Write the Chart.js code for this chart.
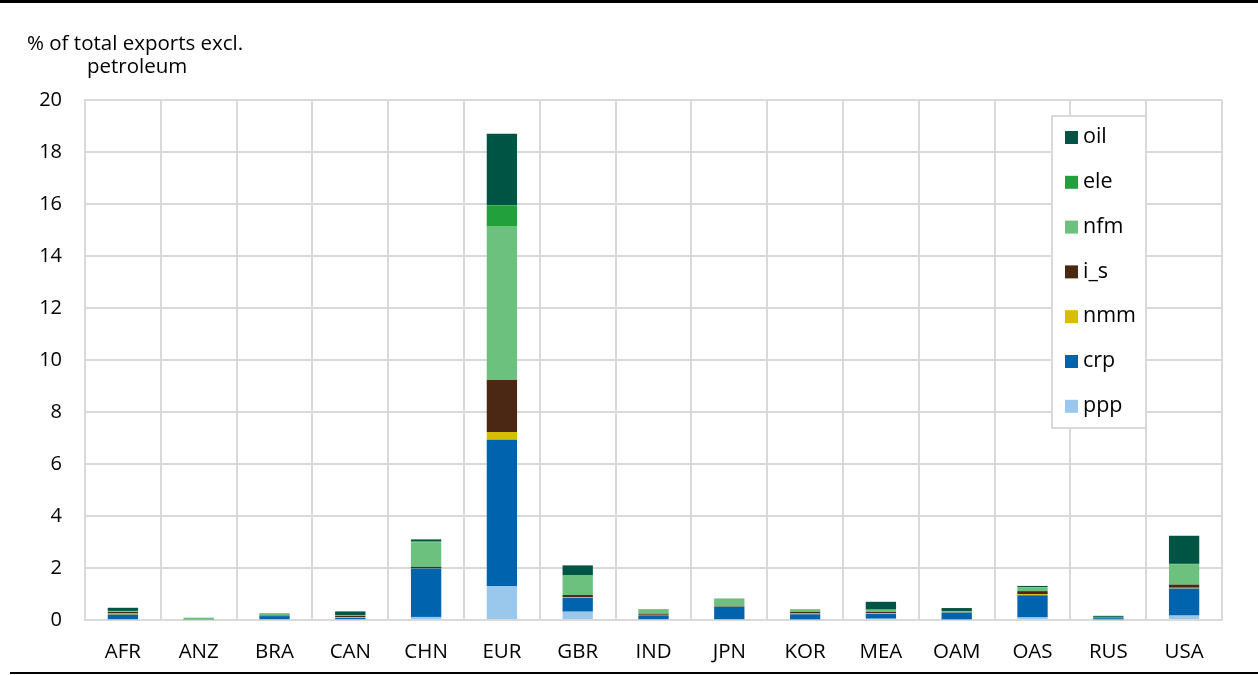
<!DOCTYPE html>
<html>
<head>
<meta charset="utf-8">
<script src="https://cdn.jsdelivr.net/npm/chart.js@4.4.0/dist/chart.umd.min.js"></script>
<style>
  html, body { margin: 0; padding: 0; background: #fff; }
  #wrap { position: relative; width: 1258px; height: 675px; }
</style>
</head>
<body>
<div id="wrap"><canvas id="chart" width="1258" height="675"></canvas></div>
<script>
const regions = ['AFR', 'ANZ', 'BRA', 'CAN', 'CHN', 'EUR', 'GBR', 'IND', 'JPN', 'KOR', 'MEA', 'OAM', 'OAS', 'RUS', 'USA'];

// stacked from bottom: ppp, crp, nmm, i_s, nfm, ele, oil
const ppp = [0.03, 0.01, 0.03, 0.03, 0.12, 1.31, 0.32, 0.03, 0.03, 0.02, 0.05, 0.02, 0.10, 0.01, 0.17];
const crp = [0.18, 0.03, 0.12, 0.05, 1.86, 5.62, 0.53, 0.15, 0.48, 0.20, 0.18, 0.27, 0.85, 0.06, 1.04];
const nmm = [0.04, 0.00, 0.01, 0.03, 0.01, 0.30, 0.03, 0.02, 0.01, 0.03, 0.03, 0.03, 0.04, 0.01, 0.03];
const i_s = [0.06, 0.00, 0.02, 0.05, 0.05, 2.00, 0.08, 0.04, 0.02, 0.06, 0.05, 0.01, 0.12, 0.02, 0.12];
const nfm = [0.03, 0.05, 0.08, 0.02, 0.95, 5.90, 0.77, 0.18, 0.27, 0.10, 0.08, 0.01, 0.14, 0.02, 0.79];
const ele = [0.01, 0.00, 0.00, 0.01, 0.03, 0.82, 0.00, 0.00, 0.00, 0.00, 0.01, 0.00, 0.02, 0.00, 0.01];
const oil = [0.12, 0.00, 0.01, 0.14, 0.08, 2.75, 0.37, 0.00, 0.01, 0.01, 0.30, 0.12, 0.04, 0.04, 1.08];

const yTicks = [0, 2, 4, 6, 8, 10, 12, 14, 16, 18, 20];

const FONT = '"Open Sans", "DejaVu Sans", sans-serif';

const series = [
  { label: 'ppp', data: ppp, color: '#99c8ec' },
  { label: 'crp', data: crp, color: '#0063ae' },
  { label: 'nmm', data: nmm, color: '#d8be00' },
  { label: 'i_s', data: i_s, color: '#4a2813' },
  { label: 'nfm', data: nfm, color: '#6cc17e' },
  { label: 'ele', data: ele, color: '#22a03c' },
  { label: 'oil', data: oil, color: '#005444' }
];

const frame = {
  id: 'frame',
  afterDraw(chart) {
    const ctx = chart.ctx;
    ctx.save();
    // rules at top and bottom
    ctx.fillStyle = '#000';
    ctx.fillRect(0, 0, 1258, 3);
    ctx.fillRect(10, 672, 1248, 2);

    // axis title
    ctx.fillStyle = '#000';
    ctx.font = '20.5px ' + FONT;
    ctx.textBaseline = 'middle';
    ctx.textAlign = 'left';
    ctx.fillText('% of total exports excl.', 27, 44);
    ctx.fillText('petroleum', 87, 67);

    // legend box
    const bx = 1052, by = 116, bw = 94, bh = 312;
    ctx.fillStyle = '#fff';
    ctx.fillRect(bx, by, bw, bh);
    ctx.strokeStyle = '#d9d9d9';
    ctx.lineWidth = 2;
    ctx.strokeRect(bx, by, bw, bh);
    const items = chart.data.datasets.slice().reverse();
    ctx.font = '21.5px ' + FONT;
    items.forEach((ds, i) => {
      const cy = 137 + i * 44.8;
      ctx.fillStyle = ds.backgroundColor;
      ctx.fillRect(1065, cy - 6, 13, 13);
      ctx.fillStyle = '#000';
      ctx.fillText(ds.label, 1083, cy);
    });
    ctx.restore();
  }
};

new Chart(document.getElementById('chart'), {
  type: 'bar',
  data: {
    labels: regions,
    datasets: series.map(s => ({
      label: s.label,
      data: s.data,
      backgroundColor: s.color,
      borderWidth: 0,
      categoryPercentage: 1,
      barPercentage: 0.4
    }))
  },
  options: {
    responsive: false,
    animation: false,
    layout: { padding: { left: 0, right: 36, top: 100, bottom: 0 } },
    plugins: {
      legend: { display: false },
      tooltip: { enabled: false }
    },
    scales: {
      x: {
        stacked: true,
        grid: { color: '#d9d9d9', lineWidth: 2, drawTicks: false, offset: true },
        border: { color: '#d9d9d9', width: 2 },
        ticks: { color: '#000', font: { family: FONT, size: 20.5 }, padding: 20, maxRotation: 0 },
        afterFit(scale) { scale.height = 55; }
      },
      y: {
        stacked: true,
        min: 0,
        max: 20,
        afterBuildTicks(scale) { scale.ticks = yTicks.map(v => ({ value: v })); },
        grid: { color: '#d9d9d9', lineWidth: 2, drawTicks: false },
        border: { color: '#d9d9d9', width: 2 },
        ticks: { color: '#000', font: { family: FONT, size: 20 }, padding: 23 },
        afterFit(scale) { scale.width = 85; }
      }
    }
  },
  plugins: [frame]
});
</script>
</body>
</html>
